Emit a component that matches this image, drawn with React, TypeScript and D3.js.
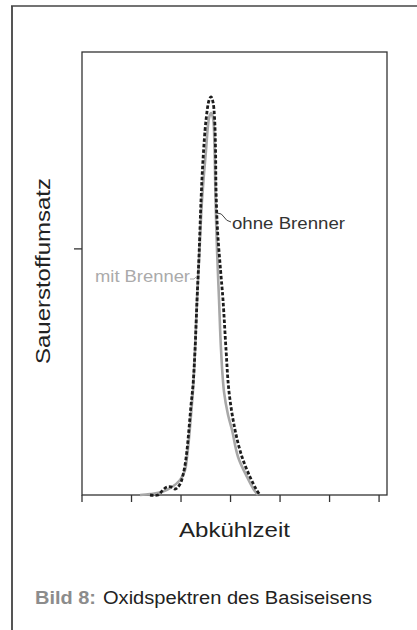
import React from "react";
import * as d3 from "d3";

// Data (x in tick units of "Abkühlzeit", y in relative units of "Sauerstoffumsatz")
const ohneBrenner: [number, number][] = [
  [1.374, 0], [1.535, 0], [1.636, 0.0102], [1.717, 0.0163], [1.798, 0.0163],
  [1.879, 0.0122], [1.939, 0.0163], [2.0, 0.0264], [2.04, 0.0406], [2.081, 0.0609],
  [2.121, 0.0914], [2.162, 0.136], [2.202, 0.183], [2.242, 0.223], [2.283, 0.295],
  [2.323, 0.396], [2.364, 0.488], [2.404, 0.599], [2.444, 0.681], [2.505, 0.762],
  [2.566, 0.802], [2.606, 0.809], [2.646, 0.798], [2.677, 0.766], [2.697, 0.7],
  [2.707, 0.62], [2.737, 0.538], [2.798, 0.457], [2.848, 0.396], [2.909, 0.295],
  [2.97, 0.209], [3.091, 0.132], [3.232, 0.0772], [3.394, 0.0366], [3.515, 0.0122],
  [3.596, 0],
];
const mitBrenner: [number, number][] = [
  [1.172, 0], [1.374, 0.002], [1.616, 0.006], [1.818, 0.0163], [1.98, 0.0305],
  [2.081, 0.0508], [2.121, 0.0772], [2.162, 0.116], [2.202, 0.163], [2.242, 0.213],
  [2.283, 0.295], [2.323, 0.396], [2.374, 0.498], [2.424, 0.599], [2.505, 0.701],
  [2.566, 0.766], [2.606, 0.776], [2.646, 0.766], [2.677, 0.701], [2.697, 0.599],
  [2.727, 0.498], [2.768, 0.396], [2.808, 0.295], [2.869, 0.209], [2.949, 0.163],
  [3.03, 0.132], [3.152, 0.0772], [3.333, 0.0366], [3.475, 0.0102], [3.556, 0],
];
const xTicks = [0, 1, 2, 3, 4, 5, 6];
const yTicks = [0.5];
const xDomain: [number, number] = [0, 6.16];
const yDomain: [number, number] = [0, 0.9];

const FONT = "'Liberation Sans', Arial, Helvetica, sans-serif";

export default function App() {
  const left = 82, right = 387, top = 52, bottom = 495;
  const x = d3.scaleLinear().domain(xDomain).range([left, right]);
  const y = d3.scaleLinear().domain(yDomain).range([bottom, top]);
  const line = d3
    .line<[number, number]>()
    .x((d) => x(d[0]))
    .y((d) => y(d[1]))
    .curve(d3.curveCatmullRom.alpha(0.5));

  return (
    <svg
      width={417}
      height={630}
      viewBox="0 0 417 630"
      style={{ position: "absolute", left: 0, top: 0, background: "#fff" }}
    >
      <rect x={0} y={0} width={417} height={630} fill="#fff" />
      {/* outer frame */}
      <line x1={12} y1={6} x2={12} y2={630} stroke="#555" strokeWidth={2} />
      <line x1={11} y1={6} x2={417} y2={6} stroke="#444" strokeWidth={1.5} />

      {/* plot box */}
      <rect x={left} y={top} width={right - left} height={bottom - top} fill="none" stroke="#333" strokeWidth={1.3} />
      {xTicks.map((t) => (
        <line key={t} x1={x(t)} x2={x(t)} y1={bottom} y2={bottom + 7} stroke="#333" strokeWidth={1.3} />
      ))}
      {yTicks.map((t) => (
        <line key={t} x1={left - 8} x2={left} y1={y(t)} y2={y(t)} stroke="#333" strokeWidth={1.3} />
      ))}

      {/* curves */}
      <path d={line(mitBrenner) || ""} fill="none" stroke="#a8a8a8" strokeWidth={2.6} />
      <path d={line(ohneBrenner) || ""} fill="none" stroke="#1c1c1c" strokeWidth={2.8} strokeDasharray="3.5 2" />

      {/* labels */}
      <path d="M217,213 q5,0 7,4 t7,5" fill="none" stroke="#444" strokeWidth={1} />
      <text x={232} y={229} fontFamily={FONT} fontSize={16.5} fill="#333" textLength={113} lengthAdjust="spacingAndGlyphs">
        ohne Brenner
      </text>
      <path d="M190,279 h4 l3,-3" fill="none" stroke="#aaa" strokeWidth={1} />
      <text x={95} y={282} fontFamily={FONT} fontSize={16} fill="#aaa" textLength={95} lengthAdjust="spacingAndGlyphs">
        mit Brenner
      </text>

      {/* axis titles */}
      <text
        transform="translate(50,271) rotate(-90)"
        textAnchor="middle"
        fontFamily={FONT}
        fontSize={20}
        fill="#222"
        textLength={186}
        lengthAdjust="spacingAndGlyphs"
      >
        Sauerstoffumsatz
      </text>
      <text x={179} y={537} fontFamily={FONT} fontSize={21} fill="#222" textLength={111} lengthAdjust="spacingAndGlyphs">
        Abkühlzeit
      </text>

      {/* caption */}
      <text x={35} y={604} fontFamily={FONT} fontSize={18} fontWeight="bold" fill="#8c8c8c" textLength={61} lengthAdjust="spacingAndGlyphs">
        Bild 8:
      </text>
      <text x={103} y={604} fontFamily={FONT} fontSize={18} fill="#222" textLength={269} lengthAdjust="spacingAndGlyphs">
        Oxidspektren des Basiseisens
      </text>
    </svg>
  );
}
